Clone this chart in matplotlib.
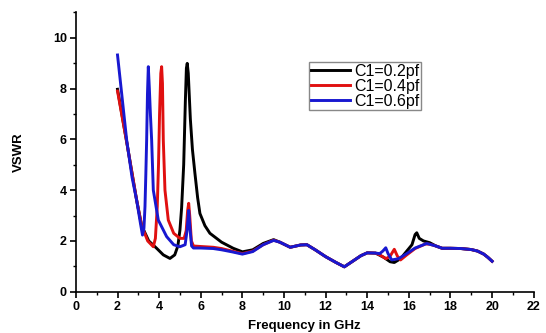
import matplotlib.pyplot as plt
from matplotlib.ticker import MultipleLocator

plt.rcParams['font.family'] = ['Liberation Sans', 'DejaVu Sans']

# C1 = 0.2 pf (black)
freq_02 = [2.0, 2.44, 2.92, 3.16, 3.5, 3.88, 4.2, 4.52, 4.75, 4.9, 5.0, 5.08, 5.18, 5.26,
           5.31, 5.35, 5.4, 5.5, 5.6, 5.72, 5.85, 5.96, 6.2, 6.44, 7.0, 7.56, 8.0, 8.5,
           9.0, 9.5, 9.8, 10.3, 10.8, 11.1, 11.5, 12.0, 12.5, 12.9, 13.3, 13.7, 14.0, 14.4,
           14.8, 15.1, 15.3, 15.6, 15.9, 16.15, 16.3, 16.38, 16.5, 16.7, 17.0, 17.3, 17.6,
           18.0, 18.5, 19.0, 19.3, 19.6, 19.8, 20.0]
vswr_02 = [7.97, 5.9, 3.6, 2.6, 2.0, 1.71, 1.45, 1.31, 1.45, 1.8, 2.43, 3.3, 5.0, 7.5,
           8.8, 8.99, 8.6, 6.8, 5.6, 4.66, 3.7, 3.08, 2.6, 2.3, 1.95, 1.71, 1.57, 1.65,
           1.9, 2.05, 1.95, 1.75, 1.84, 1.85, 1.65, 1.38, 1.15, 0.98, 1.2, 1.42, 1.53, 1.52,
           1.35, 1.18, 1.15, 1.3, 1.6, 1.85, 2.25, 2.32, 2.1, 2.0, 1.93, 1.8, 1.71,
           1.71, 1.7, 1.66, 1.6, 1.48, 1.35, 1.2]

# C1 = 0.4 pf (red)
freq_04 = [2.0, 2.44, 2.92, 3.16, 3.45, 3.72, 3.82, 3.91, 3.97, 4.02, 4.08, 4.12, 4.16,
           4.2, 4.28, 4.44, 4.7, 5.0, 5.2, 5.3, 5.37, 5.42, 5.47, 5.55, 5.65, 6.0, 6.6,
           7.0, 7.5, 8.0, 8.5, 9.0, 9.5, 9.8, 10.3, 10.8, 11.1, 11.5, 12.0, 12.5, 12.9,
           13.3, 13.7, 14.0, 14.4, 14.6, 14.9, 15.1, 15.3, 15.45, 15.6, 15.9, 16.3, 16.8,
           17.0, 17.3, 17.6, 18.0, 18.5, 19.0, 19.3, 19.6, 19.8, 20.0]
vswr_04 = [7.9, 5.9, 3.6, 2.6, 2.0, 1.77, 2.1, 3.35, 5.0, 7.0, 8.6, 8.86, 8.2,
           5.97, 4.0, 2.82, 2.3, 2.1, 2.1, 2.4, 3.2, 3.48, 3.0, 2.0, 1.8, 1.78, 1.75,
           1.7, 1.6, 1.5, 1.6, 1.85, 2.03, 1.95, 1.75, 1.84, 1.85, 1.65, 1.38, 1.15, 0.98,
           1.2, 1.42, 1.53, 1.52, 1.45, 1.3, 1.4, 1.67, 1.4, 1.25, 1.45, 1.7, 1.88,
           1.87, 1.8, 1.71, 1.71, 1.7, 1.66, 1.6, 1.48, 1.35, 1.2]

# C1 = 0.6 pf (blue)
freq_06 = [2.0, 2.2, 2.44, 2.7, 2.92, 3.1, 3.2, 3.27, 3.32, 3.36, 3.4, 3.44, 3.48, 3.53,
           3.58, 3.64, 3.72, 3.96, 4.36, 4.7, 5.0, 5.25, 5.34, 5.42, 5.48, 5.56, 5.65,
           6.0, 6.6, 7.0, 7.5, 8.0, 8.5, 9.0, 9.5, 9.8, 10.3, 10.8, 11.1, 11.5, 12.0, 12.5,
           12.9, 13.3, 13.7, 14.0, 14.4, 14.6, 14.75, 14.89, 15.0, 15.18, 15.5, 15.9, 16.3,
           16.86, 17.3, 17.6, 18.0, 18.5, 19.0, 19.3, 19.6, 19.8, 20.0]
vswr_06 = [9.32, 7.8, 5.97, 4.5, 3.6, 2.7, 2.23, 2.5, 3.35, 4.6, 5.97, 7.8, 8.86, 8.0,
           7.0, 5.97, 4.0, 2.82, 2.17, 1.85, 1.77, 1.85, 2.4, 3.2, 2.5, 1.8, 1.72,
           1.72, 1.7, 1.65, 1.57, 1.48, 1.58, 1.85, 2.02, 1.95, 1.75, 1.84, 1.85, 1.65, 1.38,
           1.15, 0.98, 1.2, 1.42, 1.53, 1.52, 1.5, 1.6, 1.73, 1.5, 1.25, 1.3, 1.5, 1.72,
           1.9, 1.8, 1.71, 1.71, 1.7, 1.66, 1.6, 1.48, 1.35, 1.2]

labels = ['C1=0.2pf', 'C1=0.4pf', 'C1=0.6pf']
colors = ['black', '#e01010', '#1818d0']

fig = plt.figure(figsize=(5.46, 3.33), dpi=100)
ax = fig.add_axes([0.139, 0.124, 0.8385, 0.839])

series = [(freq_02, vswr_02), (freq_04, vswr_04), (freq_06, vswr_06)]
for (f, v), lab, c in zip(series, labels, colors):
    ax.plot(f, v, color=c, lw=2.1, label=lab)

ax.set_xlim(0, 22)
ax.set_ylim(0, 11)
ax.xaxis.set_major_locator(MultipleLocator(2))
ax.xaxis.set_minor_locator(MultipleLocator(1))
ax.yaxis.set_major_locator(MultipleLocator(2))
ax.yaxis.set_minor_locator(MultipleLocator(1))
ax.spines['top'].set_visible(False)
ax.spines['right'].set_visible(False)
ax.spines['left'].set_linewidth(1.2)
ax.spines['bottom'].set_linewidth(1.2)
ax.tick_params(which='major', direction='out', length=4.5, width=1.2, labelsize=9, pad=2)
ax.tick_params(which='minor', direction='out', length=2.5, width=1.0)
for t in ax.get_xticklabels() + ax.get_yticklabels():
    t.set_fontweight('bold')

ax.set_xlabel('Frequency in GHz', fontsize=9.5, fontweight='bold', labelpad=5)
ax.set_ylabel('VSWR', fontsize=9.5, fontweight='bold', labelpad=20)

leg = ax.legend(loc='upper left', bbox_to_anchor=(0.509, 0.822), borderaxespad=0,
                fontsize=11.5, handlelength=2.45, handletextpad=0.3, labelspacing=0.0,
                borderpad=0.1, fancybox=False, framealpha=1)
leg.get_frame().set_edgecolor('#888888')
leg.get_frame().set_linewidth(1.0)

fig.savefig('out.png', dpi=100)
